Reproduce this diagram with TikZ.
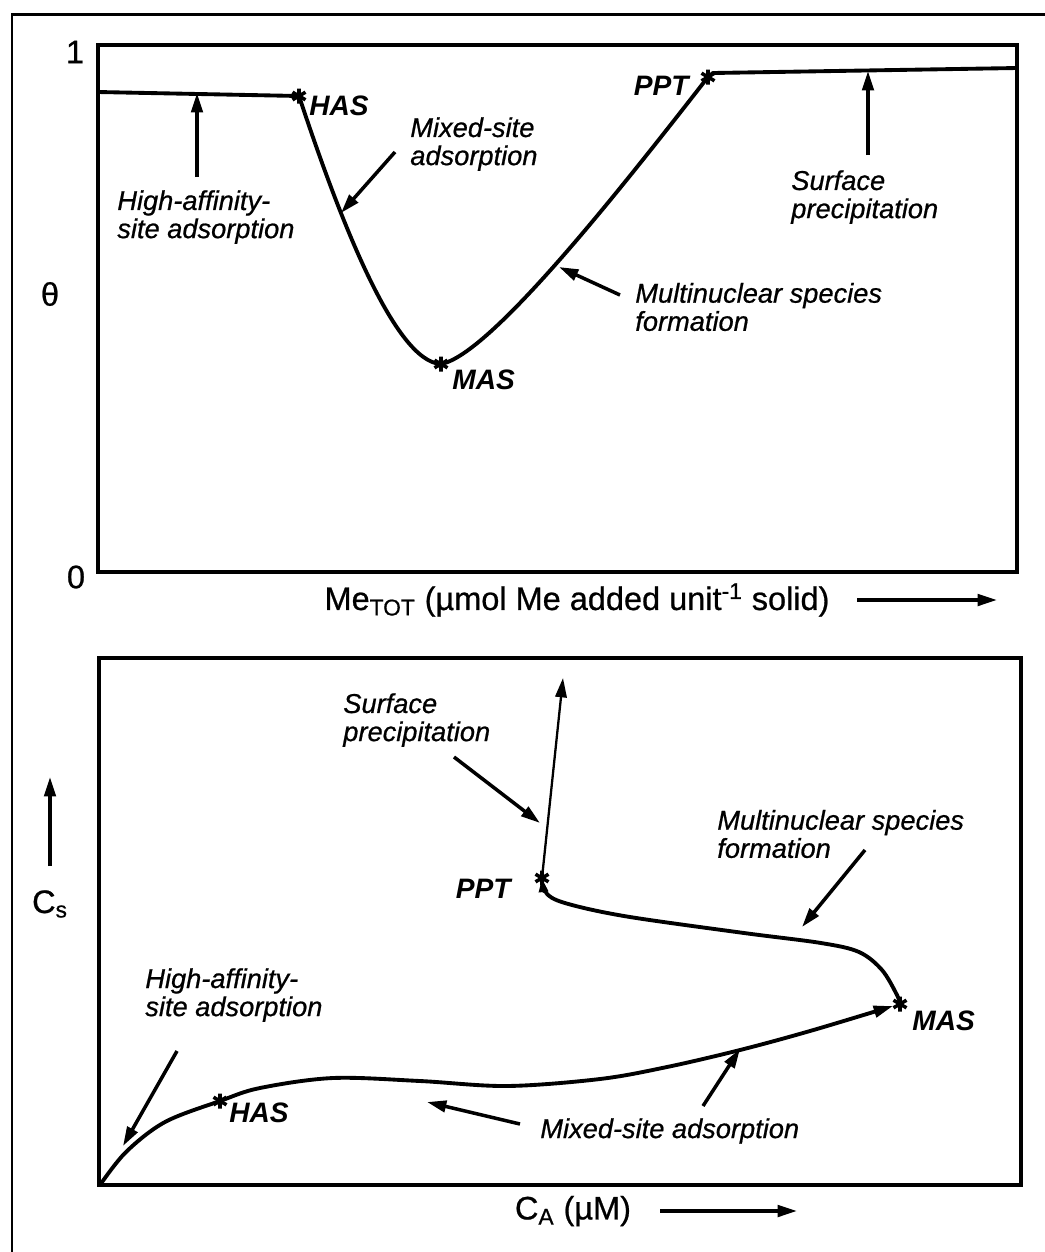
\documentclass[tikz,border=0pt]{standalone}
\usepackage{fontspec}
\setmainfont{Liberation Sans}
\newfontfamily\heavysans{Liberation Sans}[FakeBold=0.7]
\usetikzlibrary{arrows.meta}

\tikzset{
  plotbox/.style={line width=2.4pt},
  curve/.style={line width=2.2pt,line join=round,line cap=round},
  pointer/.style={line width=2pt,-{Triangle[length=11pt,width=6.5pt]}},
  axlab/.style={font=\heavysans\fontsize{18.5}{20}\selectfont,inner sep=0pt},
  note/.style={font=\heavysans\itshape\fontsize{15.5}{16}\selectfont,align=left,
    inner sep=0pt,anchor=west},
  ptlab/.style={font=\bfseries\itshape\fontsize{16}{18}\selectfont,inner sep=0pt},
  astk/.pic={\draw[line width=2pt] (0,-7.5) -- (0,7.5) (-6.5,-3.8) -- (6.5,3.8)
    (-6.5,3.8) -- (6.5,-3.8);}
}

\begin{document}
\begin{tikzpicture}[x=0.02cm,y=-0.02cm]
  \useasboundingbox (0,0) rectangle (1045,1252);
  \draw[line width=1.7pt] (12,1252) -- (12,14) -- (1045,14);

  % theta against Me_TOT
  \draw[plotbox] (98,45) rectangle (1017,572);
  \node[axlab] (oneA) at (75,52) {1};
  \node[axlab] (zeroA) at (76,577) {0};
  \node[axlab] (thetaA) at (50,294) {θ};
  \node[axlab] (xlabA) at (577,600)
    {Me\textsubscript{TOT} (µmol Me added unit\textsuperscript{-1} solid)};
  \coordinate (xarrA) at (857,600);
  \coordinate (xendA) at (997,600);
  \draw[pointer] (xarrA) -- (xendA);

  \coordinate (hasA) at (299,96);
  \coordinate (masA) at (441,364);
  \coordinate (pptA) at (708,77);
  \draw[curve] (98,92) -- (hasA);
  \draw[curve] (hasA) .. controls (340,220) and (395,362) .. (masA)
    .. controls (490,355) and (620,190) .. (pptA);
  \draw[curve] (pptA) -- (713,73) -- (1017,68);
  \pic at (hasA) {astk};
  \pic at (masA) {astk};
  \pic at (pptA) {astk};
  \node[ptlab,anchor=west] (hasAlab) at (309,106) {HAS};
  \node[ptlab,anchor=west] (masAlab) at (452,380) {MAS};
  \node[ptlab,anchor=east] (pptAlab) at (689,86) {PPT};

  \node[note] (hiA) at (117,217) {High-affinity-\\site adsorption};
  \node[note] (mixA) at (410,144) {Mixed-site\\adsorption};
  \node[note] (multA) at (635,307) {Multinuclear species\\formation};
  \node[note] (surfA) at (791,197) {Surface\\precipitation};
  \coordinate (hiAtail) at (197,177);
  \coordinate (hiAtip) at (197,93);
  \coordinate (mixAtail) at (395,152);
  \coordinate (mixAtip) at (341,213);
  \coordinate (multAtail) at (620,295);
  \coordinate (multAtip) at (559,267);
  \coordinate (surfAtail) at (868,155);
  \coordinate (surfAtip) at (868,71);
  \draw[pointer] (hiAtail) -- (hiAtip);
  \draw[pointer] (mixAtail) -- (mixAtip);
  \draw[pointer] (multAtail) -- (multAtip);
  \draw[pointer] (surfAtail) -- (surfAtip);

  % C_s against C_A
  \draw[plotbox] (99,658) rectangle (1021,1185);
  \node[axlab] (csB) at (50,904) {C\textsubscript{s}};
  \coordinate (csarrB) at (50,866);
  \coordinate (csendB) at (50,777);
  \draw[pointer] (csarrB) -- (csendB);
  \node[axlab] (xlabB) at (573,1211) {C\textsubscript{A} (µM)};
  \coordinate (xarrB) at (660,1211);
  \coordinate (xendB) at (797,1211);
  \draw[pointer] (xarrB) -- (xendB);

  \coordinate (orgB) at (100,1185);
  \coordinate (hasB) at (220,1101);
  \coordinate (masB) at (900,1004);
  \coordinate (pptB) at (542,878);
  \coordinate (sprB) at (563,678);
  \draw[curve,-{Triangle[length=11pt,width=6.5pt]}] plot[smooth,tension=0.55]
    coordinates {(orgB) (126,1152) (165,1122) (hasB) (260,1088) (333,1078)
    (420,1081) (507,1086) (600,1079) (667,1067) (740,1050) (810,1031)
    (893,1006)};
  \draw[curve,-{Triangle[length=8pt,width=5pt]}] plot[smooth,tension=0.55]
    coordinates {(masB) (897,995) (882,970) (859,952) (821,943) (744,933)
    (630,917) (572,905) (548,895) (pptB)};
  \draw[line width=1.3pt,-{Triangle[length=11pt,width=6.5pt]}] (pptB) -- (sprB);
  \pic at (hasB) {astk};
  \pic at (masB) {astk};
  \pic at (pptB) {astk};
  \node[ptlab,anchor=west] (hasBlab) at (229,1113) {HAS};
  \node[ptlab,anchor=west] (masBlab) at (912,1021) {MAS};
  \node[ptlab,anchor=east] (pptBlab) at (511,889) {PPT};

  \node[note] (surfB) at (343,720) {Surface\\precipitation};
  \node[note] (multB) at (717,834) {Multinuclear species\\formation};
  \node[note] (hiB) at (145,995) {High-affinity-\\site adsorption};
  \node[note] (mixB) at (540,1131) {Mixed-site adsorption};
  \coordinate (surfBtail) at (454,757);
  \coordinate (surfBtip) at (540,823);
  \coordinate (multBtail) at (865,850);
  \coordinate (multBtip) at (802,927);
  \coordinate (hiBtail) at (177,1051);
  \coordinate (hiBtip) at (123,1146);
  \coordinate (mixBtail) at (520,1124);
  \coordinate (mixBtip) at (427,1102);
  \coordinate (mixCtail) at (703,1106);
  \coordinate (mixCtip) at (740,1049);
  \draw[pointer] (surfBtail) -- (surfBtip);
  \draw[pointer] (multBtail) -- (multBtip);
  \draw[pointer] (hiBtail) -- (hiBtip);
  \draw[pointer] (mixBtail) -- (mixBtip);
  \draw[pointer] (mixCtail) -- (mixCtip);
\end{tikzpicture}
\end{document}
